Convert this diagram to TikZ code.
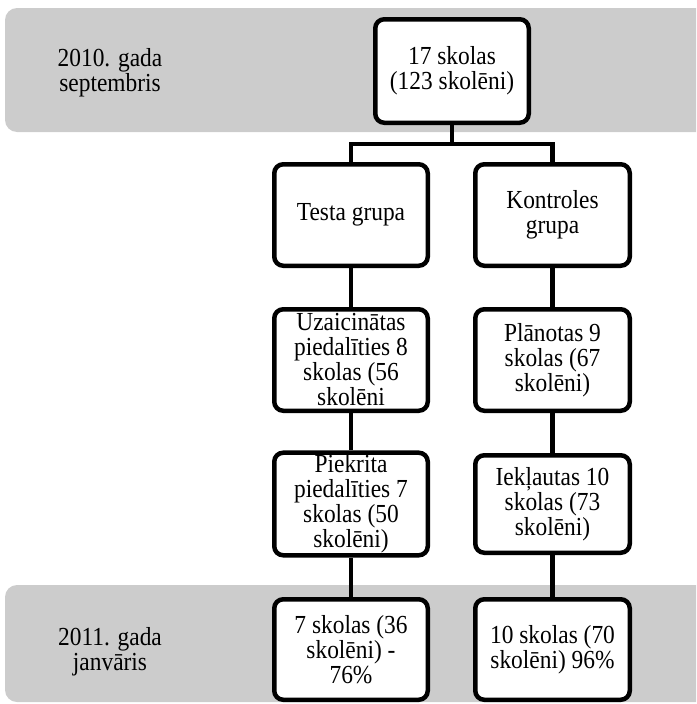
\documentclass[tikz,border=0pt]{standalone}
\usepackage{fontspec}
\setmainfont{Liberation Serif}[FakeStretch=0.9]
\definecolor{bandgray}{RGB}{204,204,204}
\tikzset{
  box/.style={draw=black, line width=4.5pt, fill=white, rounded corners=9pt,
    minimum width=153.5pt, align=center, inner sep=2pt,
    font=\fontsize{26}{25}\selectfont},
  lbl/.style={align=center, font=\fontsize{26}{25}\selectfont},
  conn/.style={line width=4.5pt}
}
\begin{document}
\begin{tikzpicture}[x=1pt,y=-1pt]
\useasboundingbox (0,0) rectangle (696,704);
\clip (0,0) rectangle (696,704);
% bands
\fill[bandgray, rounded corners=12pt] (5,8) rectangle (730,132);
\fill[bandgray, rounded corners=12pt] (5,585) rectangle (730,702);
% labels
\node[lbl] (l1) at (110,73) {2010. gada\\septembris};
\node[lbl] (l2) at (110,652) {2011. gada\\janvāris};
% boxes
\node[box, minimum height=103.5pt] (top) at (452,71) {17 skolas\\(123 skolēni)};
\node[box, minimum height=101.5pt] (testa) at (351,215) {Testa grupa};
\node[box, minimum height=101.5pt, minimum width=154.5pt] (kontr) at (552.5,215) {Kontroles\\grupa};
\node[box, minimum height=101.5pt] (uzai) at (351,360) {Uzaicinātas\\piedalīties 8\\skolas (56\\skolēni};
\node[box, minimum height=101.5pt, minimum width=154.5pt] (plan) at (552.5,360) {Plānotas 9\\skolas (67\\skolēni)};
\node[box, minimum height=97.5pt] (piek) at (351,504) {Piekrita\\piedalīties 7\\skolas (50\\skolēni)};
\node[box, minimum height=97.5pt, minimum width=154.5pt] (iekl) at (552.5,504) {Iekļautas 10\\skolas (73\\skolēni)};
\node[box, minimum height=100.5pt] (r4a) at (351,649.5) {7 skolas (36\\skolēni) -\\76\%};
\node[box, minimum height=100.5pt, minimum width=154.5pt] (r4b) at (552.5,649.5) {10 skolas (70\\skolēni) 96\%};
% connectors
\coordinate (split) at (452,144);
\draw[conn] (top.south) -- (split);
\draw[conn] (testa.north) |- (split) -| (kontr.north);
\draw[conn] (testa.south) -- (uzai.north);
\draw[conn] (uzai.south) -- (piek.north);
\draw[conn] (piek.south) -- (r4a.north);
\draw[conn] (kontr.south) -- (plan.north);
\draw[conn] (plan.south) -- (iekl.north);
\draw[conn] (iekl.south) -- (r4b.north);
\end{tikzpicture}
\end{document}
